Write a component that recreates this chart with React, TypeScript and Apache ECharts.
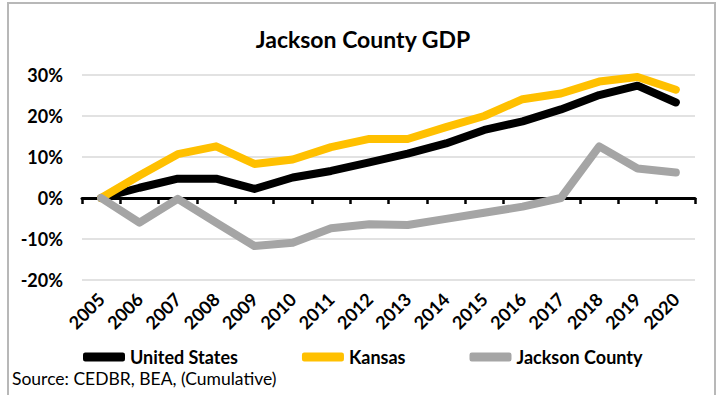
import React, { useEffect, useRef } from "react";
import * as echarts from "echarts";

const years = ["2005","2006","2007","2008","2009","2010","2011","2012","2013","2014","2015","2016","2017","2018","2019","2020"];
const unitedStates = [0, 2.5, 4.7, 4.7, 2.2, 5.0, 6.6, 8.7, 10.8, 13.3, 16.6, 18.7, 21.6, 25.1, 27.4, 23.3];
const kansas = [0, 5.5, 10.7, 12.6, 8.3, 9.4, 12.4, 14.4, 14.4, 17.3, 20.0, 24.1, 25.5, 28.4, 29.5, 26.4];
const jacksonCounty = [0, -6.0, -0.2, -6.0, -11.7, -10.9, -7.4, -6.4, -6.6, -5.1, -3.6, -2.1, 0, 12.6, 7.2, 6.2];
const yTicks = { min: -20, max: 30, interval: 10 };

const FONT = "Lato, 'Noto Sans', sans-serif";

export default function App() {
  const ref = useRef<HTMLDivElement>(null);
  useEffect(() => {
    document.body.style.margin = "0";
    const chart = echarts.init(ref.current!, null, { renderer: "svg" });
    const mk = (name: string, data: number[], color: string) => ({
      name,
      type: "line",
      data,
      symbol: "none",
      xAxisIndex: 0,
      lineStyle: { color, width: 8, cap: "round", join: "round" },
      itemStyle: { color },
    });
    chart.setOption({
      animation: false,
      backgroundColor: "#ffffff",
      title: {
        text: "Jackson County GDP",
        left: 358,
        textAlign: "center",
        top: 22,
        textStyle: { fontFamily: FONT, fontSize: 23, fontWeight: "bold", color: "#000" },
      },
      grid: { left: 82, right: 23, top: 75, bottom: 115 },
      legend: {
        left: 83,
        top: 348,
        padding: 0,
        itemWidth: 42,
        itemHeight: 9,
        itemGap: 64,
        icon: "roundRect",
        textStyle: { fontFamily: FONT, fontSize: 18, lineHeight: 18, fontWeight: "bold", color: "#000" },
        data: ["United States", "Kansas", "Jackson County"],
      },
      xAxis: [
        {
          type: "category",
          data: years,
          position: "bottom",
          axisLine: { show: false, onZero: false },
          axisTick: { show: false },
          axisLabel: {
            rotate: 45,
            margin: 16,
            interval: 0,
            fontFamily: FONT,
            fontSize: 18,
            fontWeight: "bold",
            color: "#000",
          },
          splitLine: { show: false },
        },
        {
          type: "category",
          data: years,
          position: "bottom",
          axisLine: { show: true, onZero: true, lineStyle: { color: "#000", width: 3 } },
          axisTick: { show: true, length: 6, lineStyle: { color: "#000", width: 2.5 } },
          axisLabel: { show: false },
          splitLine: { show: false },
        },
      ],
      yAxis: {
        type: "value",
        min: yTicks.min,
        max: yTicks.max,
        interval: yTicks.interval,
        axisLine: { show: false },
        axisTick: { show: false },
        axisLabel: {
          margin: 19,
          fontFamily: FONT,
          fontSize: 18,
          fontWeight: "bold",
          color: "#000",
          formatter: (v: number) => `${v}%`,
        },
        splitLine: { lineStyle: { color: "#d9d9d9", width: 1.5 } },
      },
      graphic: [
        {
          type: "rect",
          shape: { x: 8, y: 3, width: 707, height: 420 },
          style: { fill: "none", stroke: "#b8b8b8", lineWidth: 2 },
          silent: true,
        },
        {
          type: "text",
          left: 12,
          top: 369,
          style: {
            text: "Source: CEDBR, BEA, (Cumulative)",
            fontFamily: FONT,
            fontSize: 17.5,
            lineHeight: 18,
            fill: "#000",
          },
        },
      ],
      series: [
        mk("United States", unitedStates, "#000000"),
        mk("Kansas", kansas, "#FFC000"),
        mk("Jackson County", jacksonCounty, "#A5A5A5"),
      ],
    });
    return () => chart.dispose();
  }, []);
  return <div ref={ref} style={{ width: 718, height: 395 }} />;
}
